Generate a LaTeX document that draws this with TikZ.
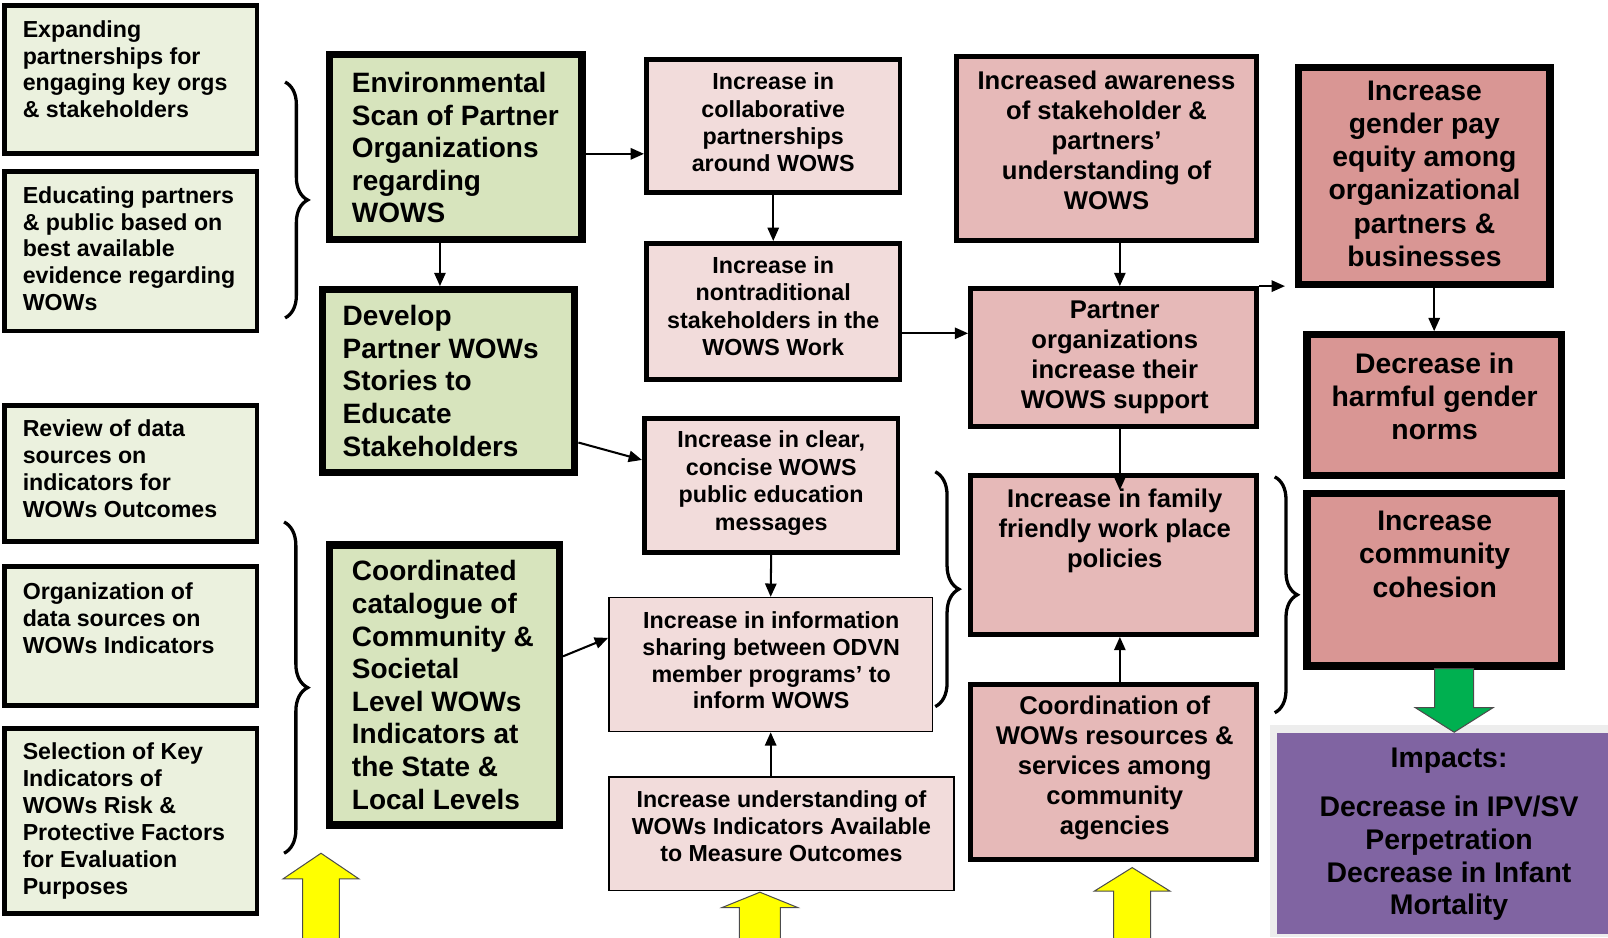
\documentclass[tikz,border=0pt]{standalone}
\usepackage{fontspec}
\setmainfont{Liberation Sans}
\usetikzlibrary{arrows.meta,decorations.pathreplacing,calc}
\definecolor{lgreen}{HTML}{EBF1DE}
\definecolor{mgreen}{HTML}{D7E4BD}
\definecolor{pinkA}{HTML}{F2DCDB}
\definecolor{pinkB}{HTML}{E6B9B8}
\definecolor{pinkC}{HTML}{D99694}
\definecolor{impurple}{HTML}{8064A2}
\definecolor{blockyellow}{HTML}{FFFF00}
\definecolor{blockgreen}{HTML}{00B050}
\begin{document}
\begin{tikzpicture}[x=1pt,y=-1pt,
  box/.style={draw=black, rectangle, inner sep=0pt},
  lbox/.style={box, fill=lgreen, line width=4.5pt},
  cbox/.style={box, fill=mgreen, line width=7pt},
  pbox/.style={box, fill=pinkA, line width=4.5pt},
  pthin/.style={box, fill=pinkA, line width=1.5pt},
  qbox/.style={box, fill=pinkB, line width=5pt},
  rbox/.style={box, fill=pinkC, line width=7pt},
  ltxt/.style={font=\bfseries\fontsize{22.6}{26.3}\selectfont, align=left, anchor=west, inner sep=0pt},
  ctxt/.style={font=\bfseries\fontsize{27.3}{31.8}\selectfont, align=left, anchor=west, inner sep=0pt},
  mtxt/.style={font=\bfseries\fontsize{22.7}{26.7}\selectfont, align=center, inner sep=0pt},
  qtxt/.style={font=\bfseries\fontsize{25}{29.3}\selectfont, align=center, inner sep=0pt},
  rtxt/.style={font=\bfseries\fontsize{27.6}{32.3}\selectfont, align=center, inner sep=0pt},
  arr/.style={draw=black, line width=2pt, -{Triangle[length=13pt,width=11pt]}},
  brc/.style={draw=black, line width=3.2pt, decorate},
  blockarrow/.style={draw=black!70, line width=1pt}
]
\useasboundingbox (0,0) rectangle (1568,914);

% left column
\node[lbox, minimum width=246.5pt, minimum height=144.5pt] (A) at (127.5,77.5) {};
\node[lbox, minimum width=246.5pt, minimum height=155.5pt] (B) at (127.5,245) {};
\node[lbox, minimum width=246.5pt, minimum height=132.5pt] (C) at (127.5,461.5) {};
\node[lbox, minimum width=246.5pt, minimum height=135.5pt] (D) at (127.5,620) {};
\node[lbox, minimum width=246.5pt, minimum height=180.5pt] (E) at (127.5,800.5) {};
\node[ltxt] (tA) at (22,67.5) {Expanding\\partnerships for\\engaging key orgs\\\& stakeholders};
\node[ltxt] (tB) at (22,242.5) {Educating partners\\\& public based on\\best available\\evidence regarding\\WOWs};
\node[ltxt] (tC) at (22,457) {Review of data\\sources on\\indicators for\\WOWs Outcomes};
\node[ltxt] (tD) at (22,603) {Organization of\\data sources on\\WOWs Indicators};
\node[ltxt] (tE) at (22,800.5) {Selection of Key\\Indicators of\\WOWs Risk \&\\Protective Factors\\for Evaluation\\Purposes};

% braces
\draw[brc, decoration={brace, amplitude=22pt}] (278,80) -- (278,310);
\draw[brc, decoration={brace, amplitude=23pt}] (277,509) -- (277,832);
\draw[brc, decoration={brace, amplitude=23pt}] (912,460) -- (912,689);
\draw[brc, decoration={brace, amplitude=22pt}] (1243,465) -- (1243,695);

% center green
\node[cbox, minimum width=246pt, minimum height=180pt] (F) at (444.5,143.5) {};
\node[cbox, minimum width=246pt, minimum height=178pt] (G) at (437.5,371.5) {};
\node[cbox, minimum width=224pt, minimum height=273pt] (H) at (433.5,668) {};
\node[ctxt] (tF) at (343,144) {Environmental\\Scan of Partner\\Organizations\\regarding\\WOWS};
\node[ctxt] (tG) at (334,371.5) {Develop\\Partner WOWs\\Stories to\\Educate\\Stakeholders};
\node[ctxt] (tH) at (343,668) {Coordinated\\catalogue of\\Community \&\\Societal\\Level WOWs\\Indicators at\\the State \&\\Local Levels};

% middle pink
\node[pbox, minimum width=247.5pt, minimum height=129.5pt] (I) at (754,123) {};
\node[pbox, minimum width=247.5pt, minimum height=132.5pt] (J) at (754,303.5) {};
\node[pbox, minimum width=247.5pt, minimum height=130.5pt] (K) at (752,473.5) {};
\node[pthin, minimum width=315.5pt, minimum height=130.5pt] (L) at (751.5,648) {};
\node[pthin, minimum width=336.5pt, minimum height=110.5pt] (M) at (762,813) {};
\node[mtxt] (tI) at (754,119.5) {Increase in\\collaborative\\partnerships\\around WOWS};
\node[mtxt] (tJ) at (754,298.5) {Increase in\\nontraditional\\stakeholders in the\\WOWS Work};
\node[mtxt] (tK) at (752,471) {Increase in clear,\\concise WOWS\\public education\\messages};
\node[mtxt, font=\bfseries\fontsize{22.7}{26}\selectfont] (tL) at (752,644) {Increase in information\\sharing between ODVN\\member programs’ to\\inform WOWS};
\node[mtxt, font=\bfseries\fontsize{22.6}{26.5}\selectfont] (tM) at (762,805.5) {Increase understanding of\\WOWs Indicators Available\\to Measure Outcomes};

% right-middle pink
\node[qbox, minimum width=293pt, minimum height=179pt] (N) at (1079,145) {};
\node[qbox, minimum width=279pt, minimum height=134pt] (O) at (1086,348.5) {};
\node[qbox, minimum width=279pt, minimum height=155pt] (P) at (1086,541) {};
\node[qbox, minimum width=279pt, minimum height=171pt] (Q) at (1086,753) {};
\node[qtxt] (tN) at (1079,136.5) {Increased awareness\\of stakeholder \&\\partners’\\understanding of\\WOWS};
\node[qtxt] (tO) at (1087,348.5) {Partner\\organizations\\increase their\\WOWS support};
\node[qtxt] (tP) at (1087,517.5) {Increase in family\\friendly work place\\policies};
\node[qtxt] (tQ) at (1087,748.5) {Coordination of\\WOWs resources \&\\services among\\community\\agencies};

% far right
\node[rbox, minimum width=245pt, minimum height=212pt] (R) at (1389,171.5) {};
\node[rbox, minimum width=248pt, minimum height=137pt] (S) at (1398.5,395) {};
\node[rbox, minimum width=248pt, minimum height=168pt] (T) at (1398.5,565.5) {};
\node[rtxt] (tR) at (1389,169.5) {Increase\\gender pay\\equity among\\organizational\\partners \&\\businesses};
\node[rtxt] (tS) at (1399,386.5) {Decrease in\\harmful gender\\norms};
\node[rtxt] (tT) at (1399,540.5) {Increase\\community\\cohesion};

% impacts
\fill[black!7] (1238,707) rectangle (1568,914);
\node[rectangle, fill=impurple, inner sep=0pt, minimum width=323pt, minimum height=196pt] (U) at (1406.5,813) {};
\node[rtxt, font=\bfseries\fontsize{27.7}{32}\selectfont] (tU) at (1413,813.5) {Impacts:\\[16pt]Decrease in IPV/SV\\Perpetration\\Decrease in Infant\\Mortality};

% connectors
\coordinate (Oout) at (1253,279);
\draw[arr] ([yshift=-6.5pt]F.east) -- ([yshift=-6.5pt]F.east -| I.west);
\draw[arr] ([xshift=-15.5pt]F.south) -- ([xshift=-15.5pt]F.south |- G.north);
\draw[arr] (I.south) -- (J.north);
\draw[arr] ([yshift=-21.5pt]J.east) -- ([yshift=-21.5pt]J.east -| O.west);
\draw[arr] ([yshift=-60pt]G.east) -- ([yshift=25pt]K.west);
\draw[arr] (K.south) -- (L.north);
\draw[arr] ([yshift=28pt]H.east) -- ([yshift=26pt]L.west);
\draw[arr] (L.south |- M.north) -- (L.south);
\draw[arr] ([xshift=6pt]O.north |- N.south) -- ([xshift=6pt]O.north);
\draw[arr] ([xshift=6pt]O.south) -- ([xshift=6pt,yshift=-17pt]P.north);
\draw[arr] ([xshift=6pt]Q.north) -- ([xshift=6pt]P.south);
\draw[arr] (O.north east) -- (Oout);
\draw[arr] (S.north |- R.south) -- (S.north);

% block arrows
\filldraw[blockarrow, fill=blockyellow] (313,832) -- (350,857) -- (331,857) -- (331,916) -- (295,916) -- (295,857) -- (276,857) -- cycle;
\filldraw[blockarrow, fill=blockyellow] (741,870) -- (778,885) -- (761,885) -- (761,916) -- (721,916) -- (721,885) -- (704,885) -- cycle;
\filldraw[blockarrow, fill=blockyellow] (1104,846) -- (1141,869) -- (1122,869) -- (1122,916) -- (1086,916) -- (1086,869) -- (1067,869) -- cycle;
\filldraw[blockarrow, fill=blockgreen] (1399,652) -- (1437,652) -- (1437,690) -- (1456,690) -- (1418,714) -- (1380,690) -- (1399,690) -- cycle;
\end{tikzpicture}
\end{document}
